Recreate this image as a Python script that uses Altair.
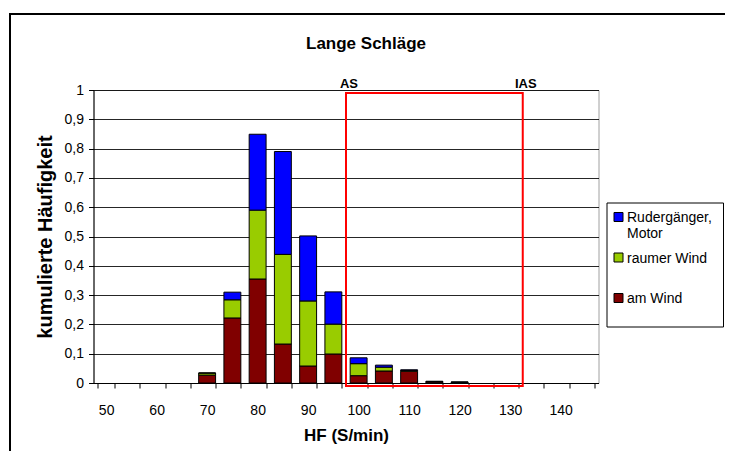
import altair as alt
import pandas as pd

# ---------------- data ----------------
hf_categories = [50, 55, 60, 65, 70, 75, 80, 85, 90, 95, 100, 105, 110, 115, 120, 125, 130, 135, 140, 145]
hf_with_data = [70, 75, 80, 85, 90, 95, 100, 105, 110, 115, 120]
am_wind = [0.027, 0.222, 0.355, 0.133, 0.058, 0.099, 0.025, 0.041, 0.040, 0.004, 0.002]
raumer_wind = [0.007, 0.062, 0.235, 0.306, 0.222, 0.102, 0.041, 0.013, 0.003, 0.001, 0.001]
rudergaenger = [0.000, 0.026, 0.259, 0.351, 0.222, 0.110, 0.020, 0.007, 0.002, 0.001, 0.000]

series_names = ["Rudergänger,\nMotor", "raumer Wind", "am Wind"]
series_colors = ["#0000FF", "#99CC00", "#800000"]

y_ticks = [0, 0.1, 0.2, 0.3, 0.4, 0.5, 0.6, 0.7, 0.8, 0.9, 1]

zone_labels = ["AS", "IAS"]
zone_edges = [97.5, 132.5]
zone_top = [0.99]
zone_bottom = [-0.01]

chart_title = ["Lange Schläge"]

# ---------------- tables ----------------
rows = []
for vals, name, o in [(am_wind, series_names[2], 0), (raumer_wind, series_names[1], 1), (rudergaenger, series_names[0], 2)]:
    for hf, v in zip(hf_with_data, vals):
        rows.append({"hf": hf, "series": name, "value": v, "ord": o})
df = pd.DataFrame(rows)

zone_df = pd.DataFrame({"x": [zone_edges[0]], "x2": [zone_edges[1]], "y": zone_top, "y2": zone_bottom})
zone_text_df = pd.DataFrame({"x": zone_edges, "label": zone_labels, "y": [1.0, 1.0]})
legend_df = pd.DataFrame({"idx": [0, 1, 2], "series": series_names})
one = pd.DataFrame({"a": [0]})
title_df = pd.DataFrame({"t": chart_title})

FONT = "Liberation Sans"
color_scale = alt.Scale(domain=series_names, range=series_colors)

# ---------------- layers ----------------
frame = alt.Chart(one).mark_rect(fillOpacity=0, stroke="black", strokeWidth=2).encode(
    x=alt.value(-83.5), x2=alt.value(660), y=alt.value(-76), y2=alt.value(400)
)

title = alt.Chart(title_df).mark_text(fontSize=17, fontWeight="bold", font=FONT, baseline="middle", align="center").encode(
    x=alt.value(272.5), y=alt.value(-46), text="t:N"
)

bars = alt.Chart(df).mark_bar(stroke="black", strokeWidth=1).encode(
    x=alt.X(
        "hf:O",
        scale=alt.Scale(domain=hf_categories, paddingInner=0.33, paddingOuter=0.165),
        axis=alt.Axis(
            labelAngle=0, labelFontSize=14, labelPadding=15, tickBand="extent", tickSize=5,
            tickColor="black", domainColor="black", grid=False,
            labelExpr="datum.value % 10 == 0 ? datum.label : ''",
            title="HF (S/min)", titleFontSize=17, titleFontWeight="bold",
            titleY=52, titleBaseline="middle",
        ),
    ),
    y=alt.Y(
        "value:Q",
        stack="zero",
        scale=alt.Scale(domain=[0, 1], nice=False),
        axis=alt.Axis(
            values=y_ticks, labelExpr="replace(toString(datum.value), '.', ',')", labelFontSize=14,
            tickSize=5, labelPadding=5, tickColor="black", domainColor="black",
            grid=True, gridColor="black", gridOpacity=0.85,
            title="kumulierte Häufigkeit", titleFontSize=20, titleFontWeight="bold",
            titleX=-48.5, titleY=146.5, titleAngle=270, titleBaseline="middle",
        ),
    ),
    color=alt.Color("series:N", scale=color_scale, legend=None),
    order=alt.Order("ord:Q"),
)

zone_scale_x = alt.Scale(domain=[47.5, 147.5], nice=False, zero=False)
zone_scale_y = alt.Scale(domain=[0, 1], nice=False)

zone = alt.Chart(zone_df).mark_rect(fillOpacity=0, stroke="#FF0000", strokeWidth=2).encode(
    x=alt.X("x:Q", scale=zone_scale_x, axis=None),
    x2="x2:Q",
    y=alt.Y("y:Q", scale=zone_scale_y, axis=None),
    y2="y2:Q",
)

zone_text = alt.Chart(zone_text_df).mark_text(
    fontSize=13, fontWeight="bold", font=FONT, baseline="alphabetic", align="center", dx=3, dy=-2
).encode(
    x=alt.X("x:Q", scale=zone_scale_x, axis=None),
    y=alt.Y("y:Q", scale=zone_scale_y, axis=None),
    text="label:N",
)

legend_box = alt.Chart(one).mark_rect(fill="white", stroke="black", strokeWidth=1).encode(
    x=alt.value(513.5), x2=alt.value(630), y=alt.value(113), y2=alt.value(237)
)

leg_y = alt.Y("idx:O", scale=alt.Scale(type="point", domain=[0, 1, 2], range=[127, 208], padding=0), axis=None)

legend_sym = alt.Chart(legend_df).mark_square(size=81, stroke="black", strokeWidth=1, opacity=1).encode(
    x=alt.value(525), y=leg_y, color=alt.Color("series:N", scale=color_scale, legend=None)
)

legend_txt = alt.Chart(legend_df).mark_text(
    align="left", baseline="alphabetic", fontSize=14, font=FONT, lineBreak="\n", lineHeight=16, dy=5
).encode(x=alt.value(533.5), y=leg_y, text="series:N")

chart = alt.layer(
    frame, title, bars, zone, zone_text, legend_box, legend_sym, legend_txt
).resolve_scale(
    x="independent", y="independent"
).properties(
    width=505, height=293,
    autosize=alt.AutoSizeParams(type="none"),
    padding={"left": 85.5, "top": 82, "right": 126.5, "bottom": 68},
    background="white",
).configure_view(
    stroke="#a0a0a0"
).configure_axis(
    labelFont=FONT, titleFont=FONT, labelColor="black", titleColor="black"
)

chart.save("out.html", embed_options={"renderer": "svg", "actions": False})
